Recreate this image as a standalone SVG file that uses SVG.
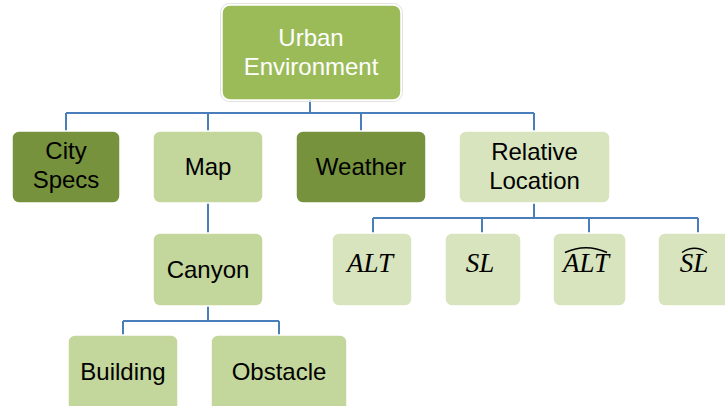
<svg xmlns="http://www.w3.org/2000/svg" width="725" height="406" viewBox="0 0 725 406">
  <style>
    .box { stroke: #ffffff; stroke-width: 1.5; }
    .outline { fill: none; stroke: #e2e2e2; stroke-width: 1; }
    .dark { fill: #76923c; }
    .mid { fill: #9bbb59; }
    .soft { fill: #c3d69b; }
    .pale { fill: #d7e4bd; }
    .label { font-family: "Liberation Sans", Arial, sans-serif; font-size: 24px; fill: #000000; text-anchor: middle; }
    .light { fill: #ffffff; }
    .math { font-family: "Liberation Serif", "Times New Roman", serif; font-style: italic; font-size: 27px; fill: #000000; text-anchor: middle; }
    .hat { fill: none; stroke: #000000; stroke-width: 1.4; }
    .link { fill: none; stroke: #4a7ebb; stroke-width: 2; }
  </style>

  <!-- tree connectors -->
  <g id="connectors">
    <path class="link" d="M310 100 V113 M66 113 H534 M66 113 V131 M208 113 V131 M361 113 V131 M534 113 V131"/>
    <path class="link" d="M208 203 V233"/>
    <path class="link" d="M208 306 V321 M123 321 H279 M123 321 V335 M279 321 V335"/>
    <path class="link" d="M534 203 V218 M373 218 H698 M373 218 V233 M482 218 V233 M589 218 V233 M698 218 V233"/>
  </g>

  <g id="urban-environment">
    <rect class="outline" x="220.5" y="3.5" width="182" height="98" rx="9"/>
    <rect class="box mid" x="222" y="5" width="179" height="95" rx="8"/>
    <text class="label light" x="311" y="46">Urban</text>
    <text class="label light" x="311" y="75">Environment</text>
  </g>

  <g id="city-specs">
    <rect class="box dark" x="12" y="131" width="108" height="72" rx="7"/>
    <text class="label" x="66" y="159">City</text>
    <text class="label" x="66" y="188">Specs</text>
  </g>

  <g id="map">
    <rect class="box soft" x="153" y="131" width="110" height="72" rx="7"/>
    <text class="label" x="208" y="175">Map</text>
  </g>

  <g id="weather">
    <rect class="box dark" x="296" y="131" width="130" height="72" rx="7"/>
    <text class="label" x="361" y="175">Weather</text>
  </g>

  <g id="relative-location">
    <rect class="box pale" x="459" y="131" width="151" height="72" rx="7"/>
    <text class="label" x="534.5" y="160">Relative</text>
    <text class="label" x="534.5" y="189">Location</text>
  </g>

  <g id="canyon">
    <rect class="box soft" x="153" y="233" width="110" height="73" rx="7"/>
    <text class="label" x="208" y="278">Canyon</text>
  </g>

  <g id="building">
    <rect class="box soft" x="68" y="335" width="110" height="80" rx="7"/>
    <text class="label" x="123" y="380">Building</text>
  </g>

  <g id="obstacle">
    <rect class="box soft" x="211" y="335" width="136" height="80" rx="7"/>
    <text class="label" x="279" y="380">Obstacle</text>
  </g>

  <g id="alt">
    <rect class="box pale" x="332" y="233" width="80" height="73" rx="7"/>
    <text class="math" x="370" y="272">ALT</text>
  </g>

  <g id="sl">
    <rect class="box pale" x="445" y="233" width="76" height="73" rx="7"/>
    <text class="math" x="480" y="272">SL</text>
  </g>

  <g id="alt-hat">
    <rect class="box pale" x="553" y="233" width="73" height="73" rx="7"/>
    <text class="math" x="586" y="272">ALT</text>
    <path class="hat" d="M565 252.5 Q586 243 607 252.5"/>
  </g>

  <g id="sl-hat">
    <rect class="box pale" x="658" y="233" width="80" height="73" rx="7"/>
    <text class="math" x="694" y="272">SL</text>
    <path class="hat" d="M682 252.5 Q694.5 244 707 252.5"/>
  </g>
</svg>
